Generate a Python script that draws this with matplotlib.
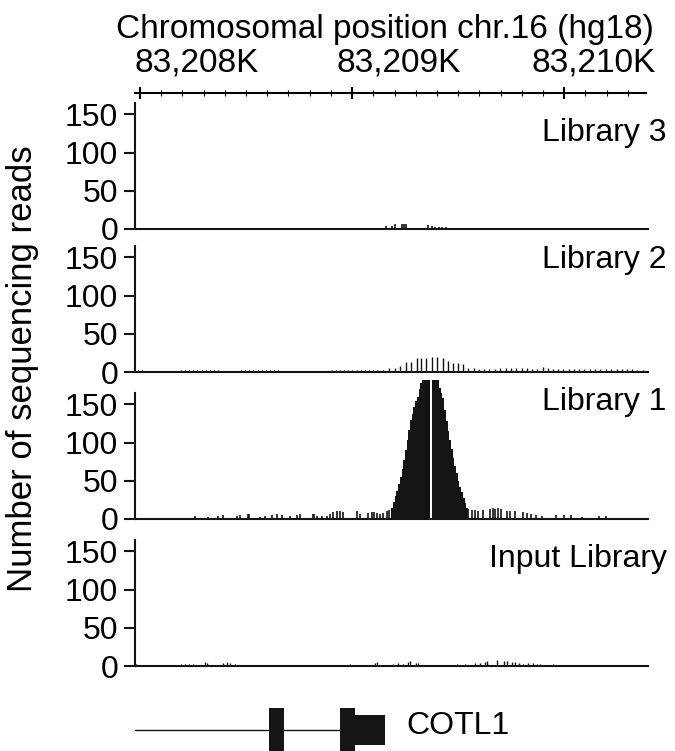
import matplotlib.pyplot as plt
import matplotlib.transforms as mtrans
from matplotlib.patches import Rectangle

plt.rcParams['font.family'] = ['Liberation Sans', 'DejaVu Sans']

# positions are bp offsets from 83,208,000 (chr16, hg18)
ORIGIN = 83208000
xlim = (-23, 2385)

ruler_major = [0, 1000, 2000]
ruler_labels = ['83,208K', '83,209K', '83,210K']
ruler_minor = list(range(-0, 2400, 100))

# Library 3
lib3_pos = [1155, 1181, 1197, 1232, 1239, 1249, 1352, 1371, 1387, 1404, 1420, 1439]
lib3_reads = [4, 4, 7, 7, 7, 7, 5, 4, 3, 3, 3, 3]

# Library 2
lib2_pos = [-8, 8,
            191, 211, 230, 250, 269, 290, 310, 329, 347, 368,
            473, 493, 513, 532, 553, 571, 590, 610, 629, 649,
            900, 920, 939, 958, 978, 997, 1017, 1036, 1056, 1077, 1095, 1114,
            1142, 1171, 1197, 1221, 1247, 1271, 1299, 1318, 1343, 1369,
            1396, 1421, 1447, 1468, 1491, 1515, 1541, 1568, 1593, 1617,
            1640, 1667, 1690, 1717, 1742, 1765, 1792, 1815, 1842, 1865,
            1891, 1914, 1940, 1964, 1987, 2014, 2038, 2062, 2086, 2113,
            2136, 2160, 2186, 2211, 2238, 2261, 2288, 2311, 2335, 2363]
lib2_reads = [3, 3,
              3, 3, 3, 3, 3, 3, 3, 3, 3, 3,
              3, 3, 3, 3, 3, 3, 3, 3, 3, 3,
              3, 3, 3, 3, 3, 3, 3, 3, 3, 3, 3, 3,
              2, 5, 5, 8, 13, 13, 18, 18, 18, 20,
              19, 18, 15, 12, 12, 10, 5, 5, 4, 4,
              4, 4, 5, 5, 5, 5, 5, 5, 4, 4,
              7, 5, 4, 4, 4, 4, 4, 4, 4, 4,
              4, 4, 4, 4, 4, 4, 4, 4, 3, 2]

# Library 1: enriched peak (8 bp bins) + scattered background reads
lib1_peak_start = [1180, 1188, 1196, 1204, 1212, 1220, 1228, 1236, 1244, 1252,
                   1260, 1268, 1276, 1284, 1292, 1300, 1308, 1316, 1324, 1332,
                   1340, 1348, 1356, 1364, 1372, 1380, 1388, 1396, 1404, 1412,
                   1420, 1428, 1436, 1444, 1452, 1460, 1468, 1476, 1484, 1492,
                   1500, 1508, 1516, 1524, 1532]
lib1_peak_reads = [15, 22, 30, 37, 46, 55, 66, 77, 90, 103,
                   116, 129, 138, 147, 154, 160, 170, 178, 182, 182,
                   182, 182, 182, 0, 182, 182, 182, 182, 172, 165,
                   158, 143, 128, 115, 104, 92, 80, 70, 60, 50,
                   42, 35, 28, 21, 15]
lib1_pos = [117, 258, 321, 368, 391, 454, 469, 509, 512, 563, 587, 618, 642, 665,
            704, 736, 751, 814, 817, 829, 853, 876, 892, 908, 923, 939, 955,
            1017, 1033, 1072, 1088, 1099, 1111, 1127, 1142, 1158, 1169,
            1541, 1557, 1573, 1588, 1612, 1643, 1656, 1667, 1682, 1693,
            1721, 1737, 1761, 1797, 1815, 1835, 1861, 1887, 1955, 1990,
            2024, 2076, 2153, 2188]
lib1_reads = [1, 4, 3, 4, 5, 4, 5, 6, 6, 3, 4, 5, 6, 5,
              4, 5, 7, 6, 6, 4, 4, 4, 6, 9, 11, 10, 9,
              11, 7, 8, 9, 9, 8, 6, 8, 11, 12,
              13, 12, 12, 10, 12, 13, 15, 13, 15, 13,
              11, 10, 10, 9, 8, 7, 5, 4, 5, 5,
              5, 2, 4, 4]

# Input library
inp_pos = [-16, 23, 192, 211, 232, 250, 305, 313, 391, 407, 423, 446, 509, 563,
           603, 728, 790, 837, 923, 986, 1009, 1033, 1103, 1111,
           1189, 1213, 1236, 1260, 1268, 1296, 1307, 1416, 1455, 1487, 1526,
           1573, 1596, 1620, 1628, 1675, 1709, 1721, 1745, 1761, 1781, 1800,
           1823, 1847, 1862, 1878, 1940, 2050, 2136, 2183, 2332]
inp_reads = [2, 1, 3, 2, 2, 3, 5, 4, 4, 5, 4, 2, 1, 1,
             1, 1, 1, 1, 1, 2, 1, 1, 4, 5,
             2, 4, 3, 5, 6, 4, 4, 1, 1, 2, 3,
             4, 4, 5, 6, 8, 7, 6, 5, 5, 4, 3,
             4, 4, 3, 2, 2, 1, 1, 1, 1]

# COTL1 gene model
gene_start = -23
exons = [(610, 681), (944, 1014)]
utr = (1014, 1155)

BLACK = '#141414'
FS = 23

fig = plt.figure(figsize=(6.75, 7.51), dpi=100)

def panel(bottom, label, label_y):
    ax = fig.add_axes([0.2, bottom, 0.76, 0.1678])
    ax.set_xlim(xlim)
    ax.set_ylim(0, 165)
    for s in ('top', 'right'):
        ax.spines[s].set_visible(False)
    ax.spines['left'].set_linewidth(1.5)
    ax.spines['bottom'].set_linewidth(1.5)
    ax.spines['left'].set_color(BLACK)
    ax.spines['bottom'].set_color(BLACK)
    ax.set_xticks([])
    ax.set_yticks([0, 50, 100, 150])
    ax.tick_params(axis='y', length=8, width=1.5, pad=4, labelsize=FS, color=BLACK)
    ax.text(1.037, label_y, label, transform=ax.transAxes, ha='right',
            va='center', fontsize=FS)
    return ax

ax3 = panel(1 - 229 / 751, 'Library 3', 0.765)
ax3.vlines(lib3_pos, 0, lib3_reads, color=BLACK, lw=1.2)

ax2 = panel(1 - 372 / 751, 'Library 2', 0.885)
ax2.vlines(lib2_pos, 0, lib2_reads, color=BLACK, lw=1.0)

ax1 = panel(1 - 519 / 751, 'Library 1', 0.93)
ax1.bar(lib1_peak_start, lib1_peak_reads, width=8, align='edge', color=BLACK,
        linewidth=0, clip_on=False)
ax1.vlines(lib1_pos, 0, lib1_reads, color=BLACK, lw=1.2)

ax0 = panel(1 - 666 / 751, 'Input Library', 0.853)
ax0.vlines(inp_pos, 0, inp_reads, color=BLACK, lw=1.0)

fig.text(0.033, 0.509, 'Number of sequencing reads', rotation=90,
         ha='center', va='center', fontsize=25)

# chromosome ruler on top
axr = fig.add_axes([0.2, 1 - 93 / 751, 0.757, 0.0005])
axr.set_xlim(xlim)
for s in ('top', 'right', 'left'):
    axr.spines[s].set_visible(False)
axr.spines['bottom'].set_linewidth(1.5)
axr.set_yticks([])
axr.set_xticks(ruler_major)
axr.set_xticks(ruler_minor, minor=True)
axr.set_xticklabels([])
axr.tick_params(axis='x', which='major', direction='inout', length=8, width=1.5)
axr.tick_params(axis='x', which='minor', direction='inout', length=4, width=0.8)
tr = mtrans.blended_transform_factory(axr.transAxes, fig.transFigure)
for xf, lab in zip([0.121, 0.517, 0.897], ruler_labels):
    axr.text(xf, 1 - 71 / 751, lab, transform=tr, ha='center', va='baseline',
             fontsize=24)
axr.text(0.489, 1 - 38 / 751, 'Chromosomal position chr.16 (hg18)', transform=tr,
         ha='center', va='baseline', fontsize=24)

# gene track
axg = fig.add_axes([0.2, 1 - 752 / 751, 0.757, 44 / 751])
axg.set_xlim(xlim)
axg.set_ylim(-1, 1)
axg.axis('off')
axg.plot([gene_start, exons[-1][0]], [0, 0], color=BLACK, lw=1.0)
for a, b in exons:
    axg.add_patch(Rectangle((a, -1), b - a, 2, color=BLACK, lw=0, clip_on=False))
axg.add_patch(Rectangle((utr[0], -0.68), utr[1] - utr[0], 1.36, color=BLACK, lw=0,
                        clip_on=False))
axg.text(utr[1] + 103, 0.16, 'COTL1', ha='left', va='center', fontsize=FS)

fig.savefig('out.png', dpi=100)
